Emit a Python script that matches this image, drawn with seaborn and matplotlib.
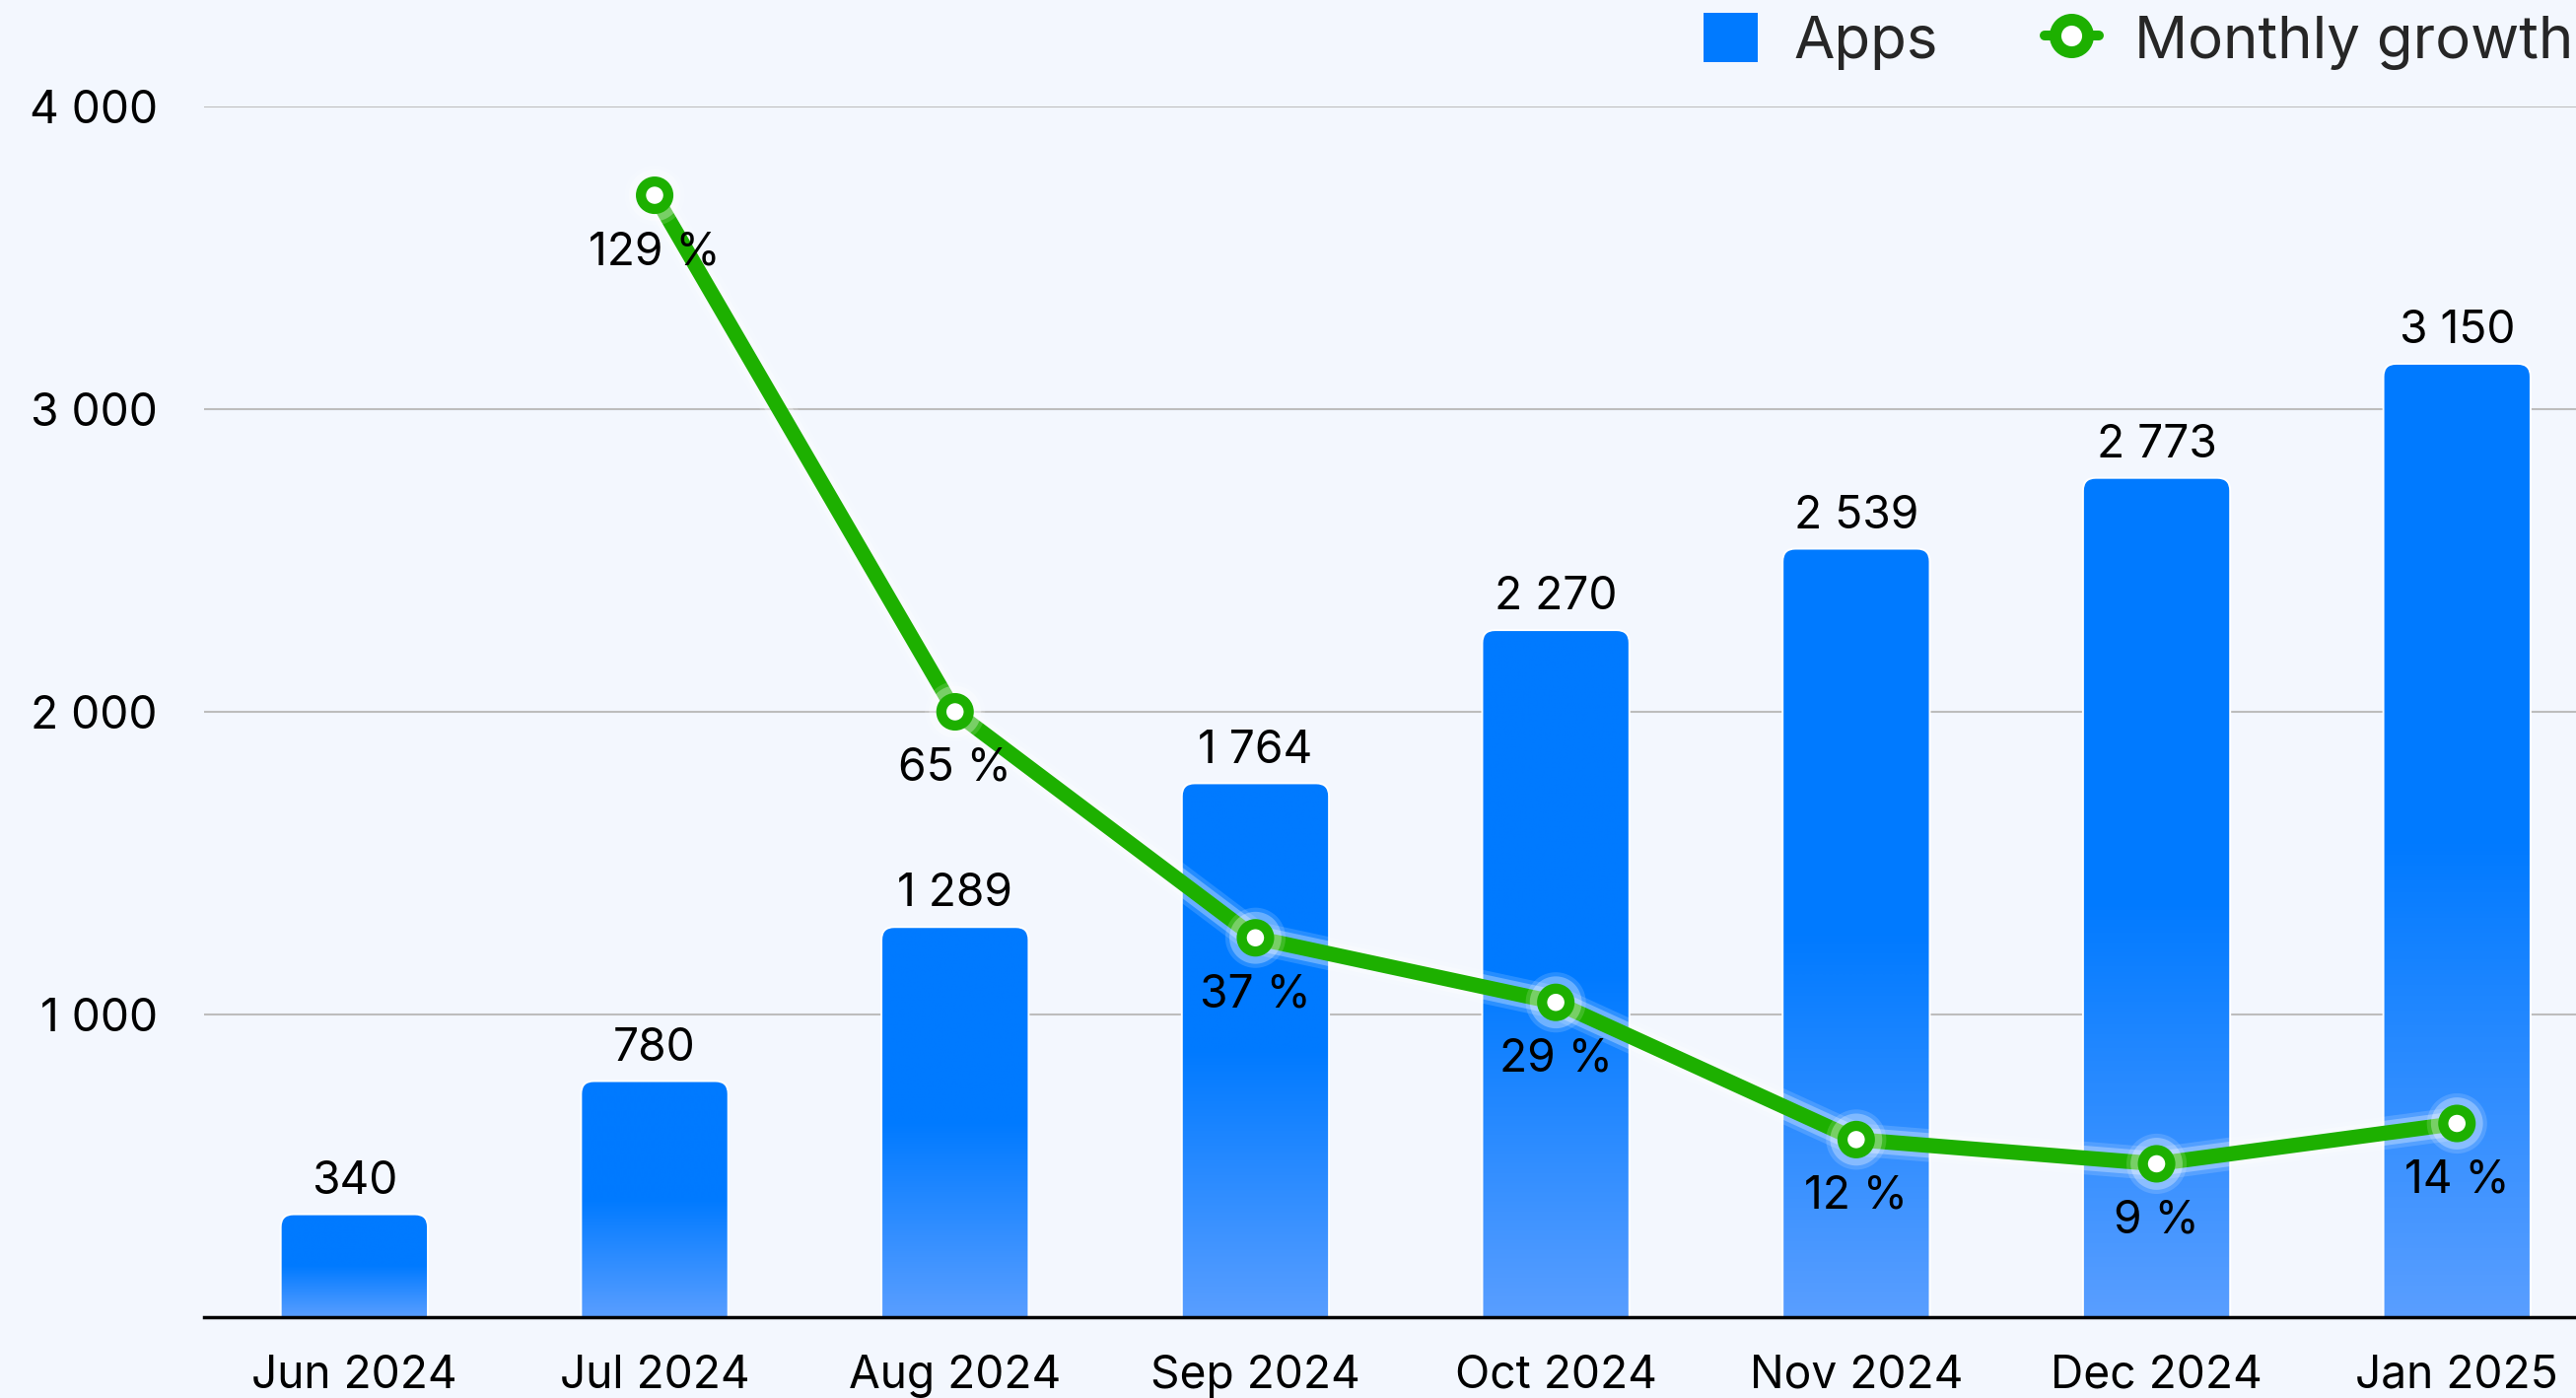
import numpy as np
import pandas as pd
import seaborn as sns
import matplotlib.pyplot as plt
import matplotlib.patheffects as pe
from matplotlib.path import Path
from matplotlib.patches import PathPatch, Patch
from matplotlib.lines import Line2D
from matplotlib.colors import LinearSegmentedColormap

# data
months = ['Jun 2024', 'Jul 2024', 'Aug 2024', 'Sep 2024',
          'Oct 2024', 'Nov 2024', 'Dec 2024', 'Jan 2025']
apps = [340, 780, 1289, 1764, 2270, 2539, 2773, 3150]
growth_months = months[1:]
growth = [129, 65, 37, 29, 12, 9, 14]
y_ticks = [1000, 2000, 3000, 4000]

BG = '#F3F7FE'
BLUE_TOP = '#007AFF'
BLUE_BOTTOM = '#599EFF'
GREEN = '#1DB000'
FS = 16.6


def fmt(v):
    return f"{v:,}".replace(',', ' ')


sns.set_style('white')
plt.rcParams['font.family'] = ['Inter', 'DejaVu Sans']

fig = plt.figure(figsize=(13.065, 7.09), dpi=200, facecolor=BG)
# axes run past the right edge, like the original
ax = fig.add_axes([207 / 2613, 1 - 1336 / 1418, 8 * 304.7 / 2613, 1228 / 1418])
ax.set_facecolor(BG)

# bars
df = pd.DataFrame({'month': months, 'apps': apps})
sns.barplot(data=df, x='month', y='apps', order=months, width=0.49,
            color=BLUE_TOP, ax=ax, zorder=2)
ax.set_xlim(-0.5, 7.5)
ax.set_ylim(0, 4000)

# pixels per data unit, for rounded corners
p = ax.transData.transform([(0, 0), (1, 1)])
sx, sy = np.abs(p[1] - p[0])
rx, ry = 13 / sx, 13 / sy

cmap = LinearSegmentedColormap.from_list('bar', [BLUE_BOTTOM, BLUE_TOP, BLUE_TOP])
grad = np.linspace(0, 1, 256).reshape(-1, 1)

for bar in list(ax.patches):
    x0, w, h = bar.get_x(), bar.get_width(), bar.get_height()
    x1 = x0 + w
    bar.set_visible(False)
    verts = [(x0, 0), (x0, h - ry), (x0, h), (x0 + rx, h), (x1 - rx, h),
             (x1, h), (x1, h - ry), (x1, 0), (x0, 0)]
    codes = [Path.MOVETO, Path.LINETO, Path.CURVE3, Path.CURVE3, Path.LINETO,
             Path.CURVE3, Path.CURVE3, Path.LINETO, Path.CLOSEPOLY]
    shape = PathPatch(Path(verts, codes), facecolor='none', edgecolor='white',
                      lw=0.7, zorder=2.2)
    ax.add_patch(shape)
    im = ax.imshow(grad, cmap=cmap, extent=(x0, x1, 0, h), origin='lower',
                   aspect='auto', zorder=2, interpolation='bilinear')
    im.set_clip_path(shape)
    ax.annotate(fmt(int(h)), (x0 + w / 2, h), xytext=(0, 7.5),
                textcoords='offset points', ha='center', va='baseline',
                fontsize=FS, color='black')

ax.set_xlim(-0.5, 7.5)
ax.set_ylim(0, 4000)
ax.set_yticks(y_ticks)
ax.set_yticklabels([fmt(t) for t in y_ticks])
ax.yaxis.grid(True, color='#BDBDBD', lw=0.75)
ax.set_axisbelow(True)
ax.tick_params(axis='both', length=0, labelsize=FS, colors='black')
ax.tick_params(axis='x', pad=13.5)
ax.tick_params(axis='y', pad=17)
for s in ['top', 'right', 'left']:
    ax.spines[s].set_visible(False)
ax.spines['bottom'].set_color('black')
ax.spines['bottom'].set_linewidth(1.25)
ax.set_xlabel('')
ax.set_ylabel('')

# growth line on a hidden second axis
ax2 = ax.twinx()
gdf = pd.DataFrame({'pos': [months.index(m) for m in growth_months], 'growth': growth})
glow = [pe.Stroke(linewidth=12, foreground='white', alpha=0.15),
        pe.Stroke(linewidth=9, foreground='white', alpha=0.3),
        pe.Normal()]
sns.lineplot(data=gdf, x='pos', y='growth', ax=ax2, color=GREEN, lw=5.5,
             marker='o', markersize=10, markeredgewidth=3.7,
             markerfacecolor='white', markeredgecolor=GREEN,
             path_effects=glow, errorbar=None)
for x, g in zip(gdf['pos'], gdf['growth']):
    ax2.annotate(f"{g} %", (x, g), xytext=(0, -25.2), textcoords='offset points',
                 ha='center', va='baseline', fontsize=FS, color='black')
ax2.set_xlim(-0.5, 7.5)
ax2.set_ylim(-10, 140)
ax2.axis('off')

# legend
handles = [Patch(facecolor=BLUE_TOP, edgecolor='none', label='Apps'),
           Line2D([], [], color=GREEN, lw=3.6, marker='o', markersize=11.9,
                  markeredgewidth=4.3, markerfacecolor='white',
                  markeredgecolor=GREEN, label='Monthly growth')]
fig.legend(handles=handles, loc='upper left',
           bbox_to_anchor=(1728 / 2613, 1 - 13 / 1418), ncol=2, frameon=False,
           fontsize=21.6, handlelength=0.92, handleheight=0.9,
           handletextpad=0.6, columnspacing=1.8, borderpad=0, borderaxespad=0)

fig.savefig('out.png', dpi=200, facecolor=BG)
